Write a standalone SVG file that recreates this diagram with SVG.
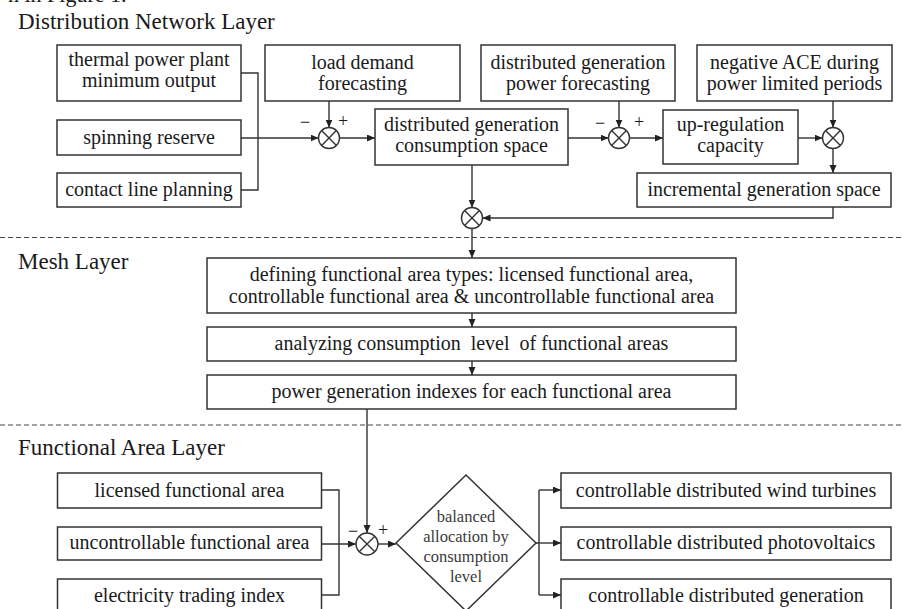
<svg xmlns="http://www.w3.org/2000/svg" width="902" height="609" viewBox="0 0 902 609">
<defs>
<style>
text{font-family:"Liberation Serif","Times New Roman",serif;fill:#1a1a1a;}
.t{font-size:20px;text-anchor:middle;}
.h{font-size:23px;}
.d{font-size:16.5px;text-anchor:middle;fill:#3a3a3a;}
.s{font-size:18px;text-anchor:middle;}
.box{fill:#fff;stroke:#333;stroke-width:1.5;}
.ln{fill:none;stroke:#333;stroke-width:1.4;}
.ar{fill:none;stroke:#333;stroke-width:1.4;marker-end:url(#ah);}
.dash{stroke:#444;stroke-width:1.2;stroke-dasharray:5,3;}
.sum circle{fill:#fff;stroke:#333;stroke-width:1.4;}
.sum path{stroke:#333;stroke-width:1.4;}
</style>
<marker id="ah" markerUnits="userSpaceOnUse" markerWidth="9" markerHeight="8" refX="8" refY="3.5" orient="auto">
<path d="M0,0 L8,3.5 L0,7 z" fill="#222"/>
</marker>
</defs>
<rect width="902" height="609" fill="#fff"/>
<text x="8" y="2" style="font-size:22px">n in Figure 1.</text>
<text class="h" x="18" y="29">Distribution Network Layer</text>
<text class="h" x="18" y="269">Mesh Layer</text>
<text class="h" x="18" y="455">Functional Area Layer</text>
<line class="dash" x1="0" y1="237.5" x2="902" y2="237.5"/>
<line class="dash" x1="0" y1="425" x2="902" y2="425"/>

<g id="connectors">
<path class="ln" d="M241,73 H258 V190 H241"/>
<path class="ar" d="M241,138 H318.5"/>
<path class="ar" d="M329,101 V127.5"/>
<path class="ar" d="M339.5,138 H375"/>
<path class="ar" d="M568,138 H608.5"/>
<path class="ar" d="M619,101 V127.5"/>
<path class="ar" d="M629.5,138 H663"/>
<path class="ar" d="M798,138 H822.5"/>
<path class="ar" d="M833,101 V127.5"/>
<path class="ar" d="M833,148.5 V173"/>
<path class="ar" d="M833,207 V218 H482.5"/>
<path class="ar" d="M472,165 V207.5"/>
<path class="ar" d="M472,228.5 V258"/>
<path class="ar" d="M472,313 V327"/>
<path class="ar" d="M472,361 V375"/>
<path class="ar" d="M367,409 V533"/>
<path class="ln" d="M322,490 H339 V595 H322"/>
<path class="ar" d="M322,544 H356"/>
<path class="ar" d="M378,544 H396"/>
<path class="ln" d="M536,543 H539 M539,490 V595"/>
<path class="ar" d="M539,490 H561"/>
<path class="ar" d="M539,543 H561"/>
<path class="ar" d="M539,595 H561"/>
</g>

<g id="thermal"><rect class="box" x="57" y="45" width="184" height="56"/><text class="t" x="149" y="66">thermal power plant</text><text class="t" x="149" y="87">minimum output</text></g>
<g id="spinning"><rect class="box" x="57" y="120" width="184" height="35"/><text class="t" x="149" y="144">spinning reserve</text></g>
<g id="contact"><rect class="box" x="57" y="173" width="184" height="34"/><text class="t" x="149" y="196">contact line planning</text></g>
<g id="load"><rect class="box" x="265" y="45" width="195" height="56"/><text class="t" x="362.5" y="69">load demand</text><text class="t" x="362.5" y="90">forecasting</text></g>
<g id="dgcs"><rect class="box" x="375" y="109" width="193" height="56"/><text class="t" x="471.5" y="131">distributed generation</text><text class="t" x="471.5" y="152">consumption space</text></g>
<g id="dgpf"><rect class="box" x="481" y="45" width="194" height="56"/><text class="t" x="578" y="69">distributed generation</text><text class="t" x="578" y="90">power forecasting</text></g>
<g id="upreg"><rect class="box" x="663" y="110" width="135" height="54"/><text class="t" x="730.5" y="131">up-regulation</text><text class="t" x="730.5" y="152">capacity</text></g>
<g id="ace"><rect class="box" x="697" y="45" width="195" height="56"/><text class="t" x="794.5" y="69">negative ACE during</text><text class="t" x="794.5" y="90">power limited periods</text></g>
<g id="incr"><rect class="box" x="637" y="173" width="254" height="34"/><text class="t" x="764" y="196">incremental generation space</text></g>

<g id="sum1" class="sum"><circle cx="329" cy="138" r="10.5"/><path d="M321.6,130.6 L336.4,145.4 M336.4,130.6 L321.6,145.4"/></g>
<g id="sum2" class="sum"><circle cx="619" cy="138" r="10.5"/><path d="M611.6,130.6 L626.4,145.4 M626.4,130.6 L611.6,145.4"/></g>
<g id="sum3" class="sum"><circle cx="833" cy="138" r="10.5"/><path d="M825.6,130.6 L840.4,145.4 M840.4,130.6 L825.6,145.4"/></g>
<g id="sum4" class="sum"><circle cx="472" cy="218" r="10.5"/><path d="M464.6,210.6 L479.4,225.4 M479.4,210.6 L464.6,225.4"/></g>
<g id="sum5" class="sum"><circle cx="367" cy="544" r="11"/><path d="M359.2,536.2 L374.8,551.8 M374.8,536.2 L359.2,551.8"/></g>
<g id="signs">
<text class="s" x="305" y="128">−</text><text class="s" x="343" y="127">+</text>
<text class="s" x="600" y="129">−</text><text class="s" x="639" y="128">+</text>
<text class="s" x="353" y="537">−</text><text class="s" x="383" y="536">+</text>
</g>

<g id="defining"><rect class="box" x="207" y="258" width="529" height="55"/><text class="t" x="471.5" y="281">defining functional area types: licensed functional area,</text><text class="t" x="471.5" y="303">controllable functional area &amp; uncontrollable functional area</text></g>
<g id="analyzing"><rect class="box" x="207" y="327" width="529" height="34"/><text class="t" x="471.5" y="350" xml:space="preserve" style="white-space:pre">analyzing consumption  level  of functional areas</text></g>
<g id="powergen"><rect class="box" x="207" y="375" width="529" height="34"/><text class="t" x="471.5" y="398">power generation indexes for each functional area</text></g>

<g id="licensed"><rect class="box" x="57.5" y="473" width="264" height="35"/><text class="t" x="189.5" y="497">licensed functional area</text></g>
<g id="uncontrollable"><rect class="box" x="57.5" y="527" width="264" height="33"/><text class="t" x="189.5" y="549">uncontrollable functional area</text></g>
<g id="trading"><rect class="box" x="57.5" y="579" width="264" height="40"/><text class="t" x="189.5" y="602">electricity trading index</text></g>

<g id="diamond"><path class="box" d="M466,475 L536,543 L466,611 L396,543 Z"/>
<text class="d" x="466" y="522">balanced</text><text class="d" x="466" y="542">allocation by</text><text class="d" x="466" y="562">consumption</text><text class="d" x="466" y="582">level</text></g>

<g id="wind"><rect class="box" x="561" y="473" width="330" height="35"/><text class="t" x="726" y="497">controllable distributed wind turbines</text></g>
<g id="pv"><rect class="box" x="561" y="527" width="330" height="33"/><text class="t" x="726" y="549">controllable distributed photovoltaics</text></g>
<g id="dg"><rect class="box" x="561" y="579" width="330" height="40"/><text class="t" x="726" y="602">controllable distributed generation</text></g>
</svg>
